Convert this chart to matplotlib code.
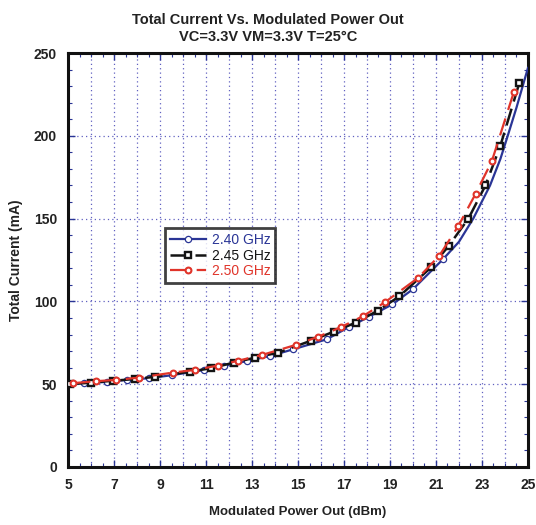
import matplotlib
matplotlib.use("Agg")
import matplotlib.pyplot as plt
from matplotlib.ticker import MultipleLocator

plt.rcParams['font.family'] = ['Liberation Sans', 'DejaVu Sans']

# 2.40 GHz
p240 = [5.0, 5.7, 6.7, 7.55, 8.5, 9.5, 10.9, 11.8, 12.8, 13.8, 14.8, 16.25,
        17.2, 18.1, 19.1, 20.0, 21.3, 22.0, 22.62, 23.35, 23.8, 24.12, 24.5, 25.0]
i240 = [50.3, 50.6, 51.4, 52.6, 53.6, 55.4, 58.6, 61.2, 64.0, 67.1, 71.1, 77.1,
        84.4, 90.8, 98.2, 107.4, 125.4, 136.0, 150.0, 170.0, 186.0, 200.0, 217.0, 241.0]
mark240 = list(range(1, 17))

# 2.45 GHz
p245 = [5.1, 6.0, 6.95, 7.9, 8.8, 10.3, 11.2, 12.2, 13.15, 14.15, 15.55, 16.55,
        17.5, 18.47, 19.4, 20.78, 21.55, 22.41, 23.15, 23.8, 24.62]
i245 = [50.1, 50.9, 52.1, 53.1, 54.5, 57.6, 59.6, 63.0, 66.1, 69.1, 76.2, 81.7,
        87.1, 94.4, 103.0, 120.5, 133.5, 150.0, 170.0, 194.0, 231.7]

# 2.50 GHz
p250 = [5.2, 6.2, 7.1, 8.1, 9.55, 10.5, 11.5, 12.4, 13.42, 14.9, 15.88, 16.86,
        17.84, 18.77, 20.23, 21.15, 21.97, 22.72, 23.43, 24.38]
i250 = [50.6, 51.8, 52.6, 54.0, 57.0, 58.6, 61.2, 64.2, 67.6, 73.7, 78.7, 84.4,
        91.2, 99.4, 114.3, 127.7, 145.5, 164.9, 184.7, 226.2]

xticks = [5, 7, 9, 11, 13, 15, 17, 19, 21, 23, 25]
yticks = [0, 50, 100, 150, 200, 250]

blue = '#2a3596'
red = '#e0342a'
black = '#141414'
grid_c = '#6060c0'

fig = plt.figure(figsize=(5.36, 5.25), dpi=100)
ax = fig.add_axes([0.127, 0.1105, 0.858, 0.7885])

ax.plot(p240, i240, color=blue, lw=1.6, marker='o', ms=4.5, mfc='white',
        mec=blue, mew=0.9, markevery=mark240, label='2.40 GHz', zorder=3)
ax.plot(p245, i245, color=black, lw=1.8, ls=(0, (7, 3)), marker='s', ms=4.8,
        mfc='white', mec=black, mew=1.7, label='2.45 GHz', zorder=4)
ax.plot(p250, i250, color=red, lw=1.6, ls=(0, (8, 4)), marker='o', ms=4.2,
        mfc='white', mec=red, mew=1.5, label='2.50 GHz', zorder=5)

ax.set_xlim(5, 25)
ax.set_ylim(0, 250)
ax.set_xticks(xticks)
ax.set_yticks(yticks)
ax.xaxis.set_minor_locator(MultipleLocator(0.5))
ax.yaxis.set_minor_locator(MultipleLocator(10))

# gridlines every 1 dBm and every 50 mA
for gx in range(6, 25):
    ax.axvline(gx, color=grid_c, lw=0.9, ls=(0, (1, 2.5)), zorder=1)
for gy in yticks[1:-1]:
    ax.axhline(gy, color=grid_c, lw=0.9, ls=(0, (1, 2.5)), zorder=1)

ax.tick_params(which='both', direction='in', top=True, right=True, color=blue)
ax.tick_params(which='major', length=5, width=1.0, pad=8)
ax.tick_params(which='minor', length=3, width=0.8)
for lab in ax.get_xticklabels() + ax.get_yticklabels():
    lab.set_fontweight('bold')
    lab.set_fontsize(10)
    lab.set_color('#222222')

for sp in ax.spines.values():
    sp.set_linewidth(2.2)
    sp.set_color('#111111')

ax.set_xlabel('Modulated Power Out (dBm)', fontsize=9.5, fontweight='bold',
              color='#222222', labelpad=10)
ax.set_ylabel('Total Current (mA)', fontsize=10, fontweight='bold',
              color='#222222', labelpad=8)

fig.text(0.5, 0.975, 'Total Current Vs. Modulated Power Out', ha='center',
         va='top', fontsize=10.5, fontweight='bold', color='#222222')
fig.text(0.5, 0.943, 'VC=3.3V VM=3.3V T=25°C', ha='center',
         va='top', fontsize=10.5, fontweight='bold', color='#222222')

leg = ax.legend(loc='upper left', bbox_to_anchor=(0.211, 0.577), fontsize=10,
                frameon=True, fancybox=False, handlelength=2.6,
                borderpad=0.35, labelspacing=0.12, handletextpad=0.4,
                borderaxespad=0)
leg.get_frame().set_edgecolor('#111111')
leg.get_frame().set_linewidth(2.0)
for txt, c in zip(leg.get_texts(), [blue, black, red]):
    txt.set_color(c)

fig.savefig('out.png', dpi=100)
